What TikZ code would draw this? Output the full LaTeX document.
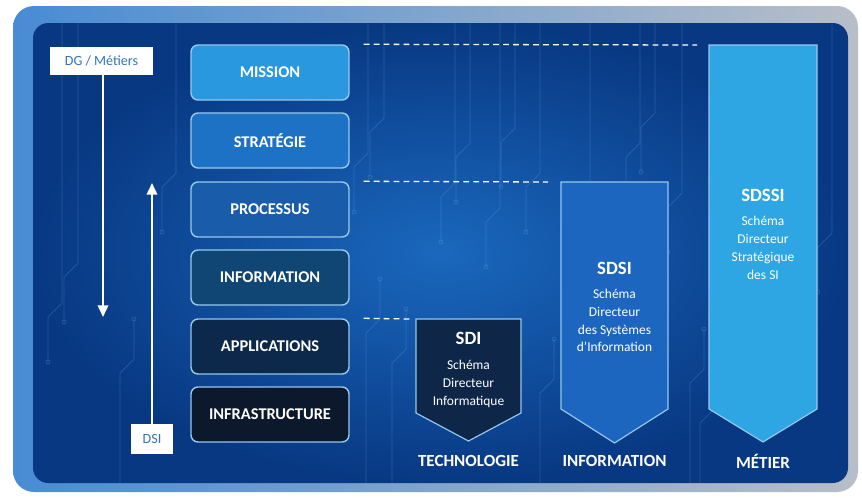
\documentclass[tikz,border=0pt]{standalone}
\usepackage{fontspec}
\setmainfont{Carlito}
\usetikzlibrary{arrows.meta}

\definecolor{frameL}{RGB}{72,140,212}
\definecolor{frameR}{RGB}{184,190,200}
\definecolor{panelIn}{RGB}{26,104,190}
\definecolor{panelOut}{RGB}{8,56,130}
\definecolor{edgeblue}{RGB}{150,200,238}
\definecolor{tagblue}{RGB}{50,118,190}
\definecolor{traceblue}{RGB}{120,180,240}
\definecolor{lMission}{RGB}{42,152,222}
\definecolor{lStrat}{RGB}{30,114,198}
\definecolor{lProc}{RGB}{24,92,170}
\definecolor{lInfo}{RGB}{16,70,116}
\definecolor{lAppl}{RGB}{12,40,74}
\definecolor{lInfra}{RGB}{12,24,44}
\definecolor{sdiC}{RGB}{14,38,72}
\definecolor{sdsiC}{RGB}{28,102,192}
\definecolor{sdssiC}{RGB}{46,166,228}

\tikzset{
  layer/.style={draw=edgeblue, line width=1.2pt, rounded corners=6pt,
    minimum width=4.74cm, minimum height=1.65cm, text=white,
    font=\fontsize{14}{16}\selectfont\bfseries},
  tag/.style={fill=white, text=tagblue, inner sep=0pt,
    font=\fontsize{12}{14}\selectfont},
  guide/.style={draw=white, dashed, dash pattern=on 5pt off 3.5pt, line width=1.1pt},
  flow/.style={draw=white, line width=1.7pt, -{Triangle[length=10pt,width=9pt]}},
  sdbox/.style={draw=edgeblue, line width=1pt},
  sdtitle/.style={text=white, font=\fontsize{16}{18}\selectfont\bfseries},
  sdbody/.style={text=white, align=center, font=\fontsize{11.5}{15.2}\selectfont},
  axis/.style={text=white, font=\fontsize{14.5}{16}\selectfont\bfseries},
  trace/.style={draw=traceblue, line width=0.6pt, opacity=0.25}
}

\begin{document}
\begin{tikzpicture}[x=0.03cm,y=-0.03cm]
  \fill[white] (0,0) rectangle (862,497);
  \useasboundingbox (0,0) rectangle (862,497);

  % frame and panel
  \shade[rounded corners=18pt, left color=frameL, right color=frameR] (13,6) rectangle (858,492);
  \shade[rounded corners=13pt, inner color=panelIn, outer color=panelOut] (33,23) rectangle (848,483);

  % circuit traces
  \foreach \x/\l in {62/280, 78/240, 176/150, 368/130, 384/95, 455/160, 470/120,
                     500/185, 515/105, 540/150, 590/205, 640/120, 655/90, 682/170, 832/210}
    \draw[trace] (\x,23) -- (\x,23+\l) -- ++(-14,14) -- ++(0,45) circle[radius=2];
  \foreach \x/\l in {120/110, 366/150, 392/120, 540/90, 690/100, 700/60}
    \draw[trace] (\x,483) -- (\x,483-\l) -- ++(14,-14) -- ++(0,-40) circle[radius=2];

  % layers
  \node[layer, fill=lMission] (mission) at (270,72.5) {MISSION};
  \node[layer, fill=lStrat] (strategie) at (270,140.5) {STRATÉGIE};
  \node[layer, fill=lProc] (processus) at (270,209.5) {PROCESSUS};
  \node[layer, fill=lInfo] (information) at (270,277.5) {INFORMATION};
  \node[layer, fill=lAppl] (applications) at (270,346.5) {APPLICATIONS};
  \node[layer, fill=lInfra] (infrastructure) at (270,414.5) {INFRASTRUCTURE};

  % DG / DSI
  \node[tag, minimum width=3.09cm, minimum height=0.84cm] (dg) at (101.5,61) {DG / Métiers};
  \node[tag, minimum width=1.26cm, minimum height=0.9cm] (dsi) at (152,439) {DSI};
  \coordinate (dgend) at (103,317);
  \coordinate (dsiend) at (152,183);
  \draw[flow] (dg.south -| dgend) -- (dgend);
  \draw[flow] (dsi.north) -- (dsiend);

  % schemas
  \draw[sdbox, fill=sdiC] (416,319) coordinate (sdi-nw) -- (521,319) -- (521,413)
    -- (468.5,441) -- (416,413) -- cycle;
  \draw[sdbox, fill=sdsiC] (561,182) coordinate (sdsi-nw) -- (668,182) -- (668,409)
    -- (614.5,443) -- (561,409) -- cycle;
  \draw[sdbox, fill=sdssiC] (709,45) coordinate (sdssi-nw) -- (817,45) -- (817,409)
    -- (763,442) -- (709,409) -- cycle;

  \node[sdtitle] (sdi) at (468.5,338) {SDI};
  \node[sdbody] (sdi-txt) at (468.5,384) {Schéma\\Directeur\\Informatique};
  \node[sdtitle] (sdsi) at (614.5,268) {SDSI};
  \node[sdbody] (sdsi-txt) at (614.5,320.5) {Schéma\\Directeur\\des Systèmes\\d'Information};
  \node[sdtitle] (sdssi) at (763,195) {SDSSI};
  \node[sdbody] (sdssi-txt) at (763,248) {Schéma\\Directeur\\Stratégique\\des SI};

  % dashed guides
  \draw[guide] ([xshift=0.42cm]mission.north east) -- ([xshift=-0.36cm]sdssi-nw);
  \draw[guide] ([xshift=0.42cm]processus.north east) -- ([xshift=-0.39cm]sdsi-nw);
  \draw[guide] ([xshift=0.42cm]applications.north east) -- ([xshift=-0.2cm]sdi-nw);

  % axes
  \node[axis] (techno) at (468.5,461) {TECHNOLOGIE};
  \node[axis] (info) at (614.5,461) {INFORMATION};
  \node[axis] (metier) at (763,461) {MÉTIER};
\end{tikzpicture}
\end{document}
